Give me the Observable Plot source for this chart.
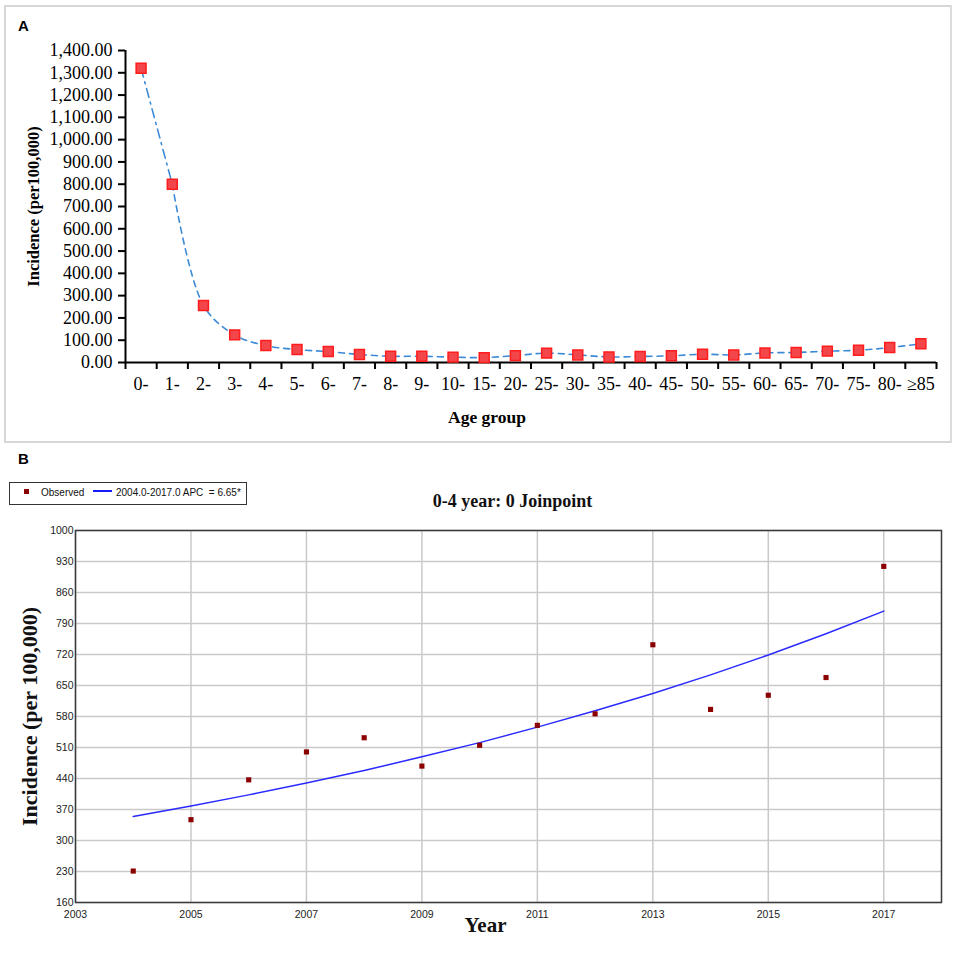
<!DOCTYPE html>
<html>
<head>
<meta charset="utf-8">
<script src="https://cdn.jsdelivr.net/npm/d3@7"></script>
<script src="https://cdn.jsdelivr.net/npm/@observablehq/plot@0.6"></script>
<style>
  html, body { margin: 0; padding: 0; background: #fff; }
  #root { position: relative; width: 957px; height: 960px; overflow: hidden; background: #fff; }
  #boxA { position: absolute; left: 4px; top: 5px; width: 948px; height: 438px; box-sizing: border-box; border: 2px solid #d6d6d6; border-right-color: #dcdcdc; }
  .panel-label { position: absolute; font: bold 15px "Liberation Sans", Arial, sans-serif; line-height: 1; color: #000; }
  #chartA { position: absolute; left: 0; top: 0; }
  #chartB { position: absolute; left: 0; top: 440px; }
  #legendB { position: absolute; left: 9px; top: 482px; width: 238px; height: 23px; box-sizing: border-box; border: 1.5px solid #333; background: #fff;
             font: 10px "Liberation Sans", Arial, sans-serif; color: #111; }
  #legendB .sq { position: absolute; left: 14px; top: 6px; width: 5px; height: 5px; background: #8b0000; }
  #legendB .t1 { position: absolute; left: 31px; top: 4px; }
  #legendB .ln { position: absolute; left: 83px; top: 7px; width: 19px; height: 2px; background: #1a1aff; }
  #legendB .t2 { position: absolute; left: 106px; top: 4px; }
</style>
</head>
<body>
<div id="root">
  <div id="boxA"></div>
  <div id="chartA"></div>
  <div class="panel-label" style="left:18px; top:18px;">A</div>
  <div id="chartB"></div>
  <div class="panel-label" style="left:18px; top:451px;">B</div>
  <div id="legendB"><div class="sq"></div><span class="t1">Observed</span><div class="ln"></div><span class="t2">2004.0-2017.0 APC &nbsp;= 6.65*</span></div>
</div>
<script>
// ---------- Panel A data ----------
const ageGroups = ["0-","1-","2-","3-","4-","5-","6-","7-","8-","9-","10-","15-","20-","25-","30-","35-","40-","45-","50-","55-","60-","65-","70-","75-","80-","≥85"];
const incidenceA = [1320, 800, 256, 124, 76, 58, 49, 36, 28, 28, 24, 22, 31, 42, 34, 25, 27, 30, 37, 34, 43, 45, 51, 55, 67, 84];
const yTicksA = [0,100,200,300,400,500,600,700,800,900,1000,1100,1200,1300,1400];

// ---------- Panel B data ----------
const yearsB = [2004,2005,2006,2007,2008,2009,2010,2011,2012,2013,2014,2015,2016,2017];
const observedB = [231, 347, 437, 500, 532, 468, 515, 560, 586, 742, 596, 628, 668, 919];
const fittedB = [354, 378, 403, 430, 458, 489, 521, 556, 593, 632, 674, 719, 767, 818];
const yTicksB = [160,230,300,370,440,510,580,650,720,790,860,930,1000];
const xTicksB = [2003,2005,2007,2009,2011,2013,2015,2017];

const dataA = ageGroups.map((g, i) => ({g, i: i + 0.5, v: incidenceA[i]}));
const dataB = yearsB.map((yr, i) => ({yr, obs: observedB[i], fit: fittedB[i]}));

const serif = "'Liberation Serif', 'Times New Roman', serif";
const sans = "'Liberation Sans', Arial, sans-serif";
const blueA = "#3d8ad6";

const chartA = Plot.plot({
  width: 957, height: 440,
  marginLeft: 125, marginRight: 21, marginTop: 50, marginBottom: 78,
  x: {domain: [0, ageGroups.length]},
  y: {domain: [0, 1400]},
  style: {fontFamily: serif, fontSize: "18px", color: "#000", background: "transparent", overflow: "visible"},
  marks: [
    Plot.axisY(yTicksA, {tickFormat: d3.format(",.2f"), tickSize: 7, tickPadding: 6, strokeWidth: 2, label: null, fontSize: 18}),
    Plot.axisX(d3.range(0, ageGroups.length + 1), {tickFormat: () => "", tickSize: 7, strokeWidth: 2, label: null}),
    Plot.axisX(dataA.map(d => d.i), {tickFormat: d => ageGroups[Math.floor(d)], tickSize: 0, tickPadding: 15, label: null, fontSize: 18}),
    Plot.ruleX([0], {strokeWidth: 2}),
    Plot.ruleY([0], {strokeWidth: 2}),
    Plot.line(dataA.slice(0, 2), {x: "i", y: "v", stroke: blueA, strokeWidth: 1.6, strokeDasharray: "9,5,2,5"}),
    Plot.line(dataA.slice(1), {x: "i", y: "v", curve: "catmull-rom", stroke: blueA, strokeWidth: 1.6, strokeDasharray: "6,5"}),
    Plot.dot(dataA, {x: "i", y: "v", symbol: "square", r: 5.6, fill: "#f2464a", stroke: "#ff1c1c", strokeWidth: 1.5}),
    Plot.text(["Incidence (per100,000)"], {frameAnchor: "left", dx: -92, rotate: -90, textAnchor: "middle", lineAnchor: "middle", fontWeight: "bold", fontSize: 16.5, fontFamily: serif}),
    Plot.text(["Age group"], {frameAnchor: "bottom", dx: -44, dy: 55, textAnchor: "middle", lineAnchor: "middle", fontWeight: "bold", fontSize: 17.5, fontFamily: serif})
  ]
});
document.getElementById("chartA").appendChild(chartA);

const chartB = Plot.plot({
  width: 957, height: 520,
  marginLeft: 75, marginRight: 16, marginTop: 90, marginBottom: 58,
  x: {domain: [2003, 2018]},
  y: {domain: [160, 1000]},
  style: {fontFamily: sans, fontSize: "10.5px", color: "#222", background: "transparent", overflow: "visible"},
  marks: [
    Plot.gridY(yTicksB, {stroke: "#c9c9c9", strokeOpacity: 1, strokeWidth: 1.5}),
    Plot.gridX(xTicksB, {stroke: "#c9c9c9", strokeOpacity: 1, strokeWidth: 1.5}),
    Plot.frame({stroke: "#3a3a3a", strokeWidth: 1.5}),
    Plot.axisY(yTicksB, {tickSize: 0, tickPadding: 2, tickFormat: d => String(d), label: null}),
    Plot.axisX(xTicksB, {tickSize: 0, tickPadding: 8, tickFormat: d => String(d), label: null}),
    Plot.line(dataB, {x: "yr", y: "fit", stroke: "#2a2aff", strokeWidth: 1.5}),
    Plot.dot(dataB, {x: "yr", y: "obs", symbol: "square", r: 2.9, fill: "#8b0000", stroke: "none"}),
    Plot.text(["0-4 year: 0 Joinpoint"], {frameAnchor: "top", dx: 4, dy: -29, textAnchor: "middle", lineAnchor: "middle", fontWeight: "bold", fontSize: 18, fontFamily: serif, fill: "#111"}),
    Plot.text(["Incidence (per 100,000)"], {frameAnchor: "left", dx: -46, rotate: -90, textAnchor: "middle", lineAnchor: "middle", fontWeight: "bold", fontSize: 22, fontFamily: serif, fill: "#111"}),
    Plot.text(["Year"], {frameAnchor: "bottom", dx: -23, dy: 23, textAnchor: "middle", lineAnchor: "middle", fontWeight: "bold", fontSize: 21, fontFamily: serif, fill: "#111"})
  ]
});
document.getElementById("chartB").appendChild(chartB);
</script>
</body>
</html>
